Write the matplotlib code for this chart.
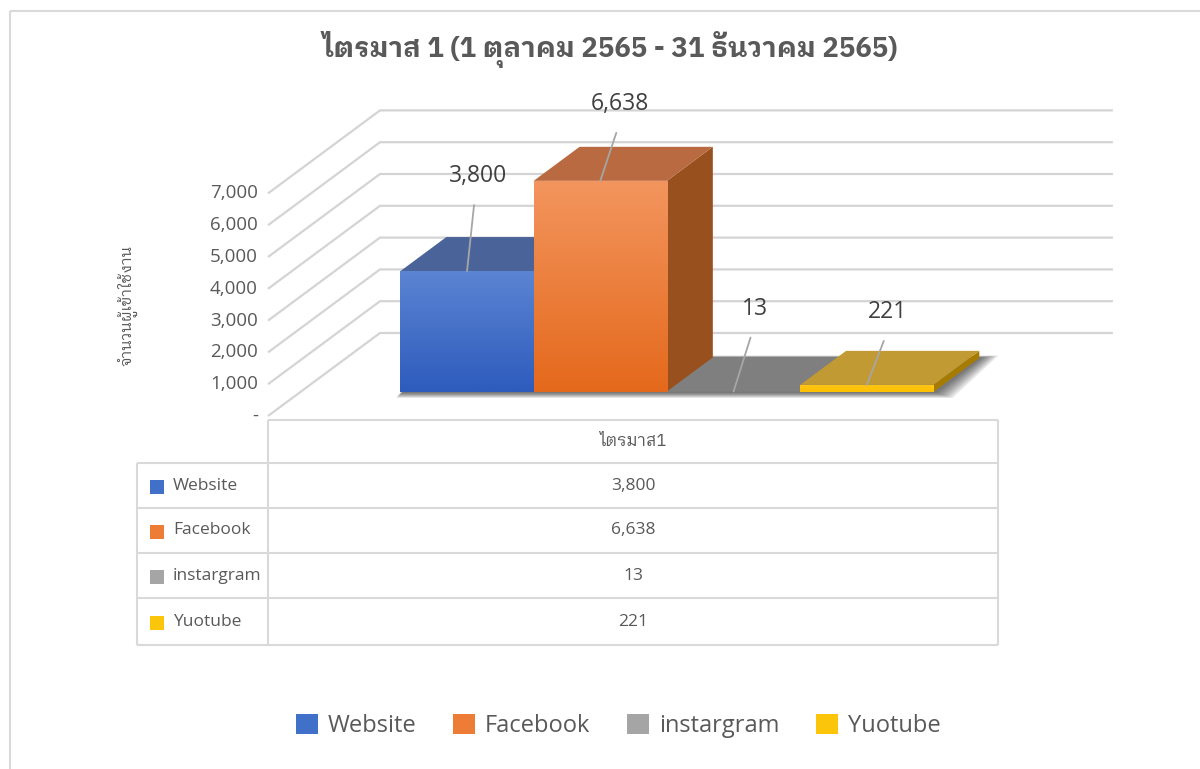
import numpy as np
import matplotlib
matplotlib.use("Agg")
import matplotlib.pyplot as plt
from matplotlib import font_manager
from matplotlib.ft2font import FT2Font
from matplotlib.patches import Polygon, Rectangle
import matplotlib.transforms as mtransforms

# ---------------- data ----------------
title = "ไตรมาส 1 (1 ตุลาคม 2565 - 31 ธันวาคม 2565)"
y_label = "จำนวนผู้เข้าใช้งาน"
period_label = "ไตรมาส1"
series = ["Website", "Facebook", "instargram", "Yuotube"]
values = [3800, 6638, 13, 221]
y_ticks = [0, 1000, 2000, 3000, 4000, 5000, 6000, 7000]

# ---------------- styles ----------------
front_top = ["#5b84d2", "#f3955e", "#8a8a8a", "#ffc61a"]
front_bot = ["#2e5cbd", "#e4691c", "#7a7a7a", "#ffc000"]
top_col = ["#4a6399", "#b96a40", "#7f7f7f", "#c19a33"]
side_col = ["#2c4a80", "#99501f", "#5f5f5f", "#a67c00"]
key_col = ["#4170c8", "#ec7c36", "#a5a5a5", "#fbc50c"]
TXT = "#595959"
GRID = "#d4d4d4"


def fmt(v):
    return "-" if v == 0 else f"{v:,}"


def thai_capable(name):
    for f in font_manager.fontManager.ttflist:
        if f.name == name:
            try:
                cm = FT2Font(f.fname).get_charmap()
            except Exception:
                continue
            if 0x0E44 in cm and 0x0E23 in cm:
                return True
    return False


thai_family = None
for p in ["IBM Plex Sans Thai Looped", "Noto Sans Thai Looped", "Sarabun", "Loma",
          "Noto Sans Thai"]:
    if thai_capable(p):
        thai_family = p
        break
THAI = [thai_family, "DejaVu Sans"] if thai_family else ["DejaVu Sans"]
LAT = ["Open Sans", "DejaVu Sans"]

W, H, DPI = 1200, 769, 100
fig = plt.figure(figsize=(W / DPI, H / DPI), dpi=DPI)
fig.patch.set_facecolor("white")

# pixel transform for layout items (origin top-left)
T = mtransforms.Affine2D().scale(1 / W, -1 / H).translate(0, 1) + fig.transFigure

# ---------------- 3D projection set-up ----------------
PXC = 133.25          # px per category unit
PXV = 0.0318          # px per value unit
FX, FY = 268, 416     # px position of floor front-left corner
DEP = (112, -83)      # px vector from front to back wall
X0, X1 = -1.25, 4.25  # floor extent in category units
ZF, ZB = 0.29, 0.70   # bar depth range

ax = fig.add_axes([0, 0, 1, 1])
ax.axis("off")

DZX = DEP[0] / PXC
DZV = -DEP[1] / PXV


def P(x, v, z):
    return (x + z * DZX, v + z * DZV)


# walls / gridlines
for t in y_ticks:
    pts = [P(X0, t, 0), P(X0, t, 1), P(X1, t, 1)]
    ax.plot([p[0] for p in pts], [p[1] for p in pts], color=GRID, lw=1.6,
            solid_capstyle="butt", zorder=1)
    tx, ty = P(X0, t, 0)
    ax.text(tx - 10 / PXC, ty, fmt(t), ha="right", va="center", fontsize=13.5,
            color=TXT, family=LAT)

# soft shadow under bars
for k in range(8):
    e = 12 - k * 1.4
    ex = e / PXC
    ev = e / PXV
    sh = [P(-0.5 - ex * 0.35, -ev * 0.5, ZF), P(3.5 + ex * 1.6, -ev * 0.5, ZF),
          P(3.5 + ex * 1.6, ev * 0.2, ZB), P(-0.5 - ex * 0.35, ev * 0.2, ZB)]
    ax.add_patch(Polygon(sh, closed=True, facecolor="black", edgecolor="none",
                         alpha=0.085, zorder=2))

# bars
for i, v in enumerate(values):
    xl, xr = i - 0.5, i + 0.5
    side = [P(xr, 0, ZF), P(xr, v, ZF), P(xr, v, ZB), P(xr, 0, ZB)]
    ax.add_patch(Polygon(side, closed=True, facecolor=side_col[i], edgecolor="none", zorder=3 + i))
    top = [P(xl, v, ZF), P(xr, v, ZF), P(xr, v, ZB), P(xl, v, ZB)]
    ax.add_patch(Polygon(top, closed=True, facecolor=top_col[i], edgecolor="none", zorder=3 + i))
    fl = P(xl, 0, ZF)
    fr = P(xr, v, ZF)
    front = Rectangle(fl, fr[0] - fl[0], fr[1] - fl[1], facecolor=front_bot[i],
                      edgecolor="none", zorder=3 + i)
    ax.add_patch(front)
    if v > 0:
        grad = np.linspace(0, 1, 64)[:, None, None]
        c1 = np.array(matplotlib.colors.to_rgb(front_top[i]))
        c2 = np.array(matplotlib.colors.to_rgb(front_bot[i]))
        img = c1 * (1 - grad) + c2 * grad
        im = ax.imshow(img, extent=(fl[0], fr[0], fl[1], fr[1]), origin="upper",
                       aspect="auto", zorder=3.5 + i, interpolation="bilinear")
        im.set_clip_path(front)

# data labels with leader lines
label_off = [(11, 95), (20, 77), (21, 83), (21, 73)]
for i, v in enumerate(values):
    anchor = P(i, v, ZF)
    dx, dy = label_off[i]
    ax.annotate("", xy=anchor, xytext=(dx - 4, dy - 29), textcoords="offset pixels",
                arrowprops=dict(arrowstyle="-", color="#a6a6a6", lw=1.3,
                                shrinkA=0, shrinkB=0), zorder=10)
    ax.annotate(fmt(v), xy=anchor, xytext=(dx, dy), textcoords="offset pixels",
                ha="center", va="center", fontsize=16.5, color="#404040",
                family=LAT, zorder=10)

ax.set_xlim(X0 - FX / PXC, X0 + (W - FX) / PXC)
ax.set_ylim(-(H - FY) / PXV, FY / PXV)

# ---------------- title & axis label ----------------
fig.text(610, 49, title, transform=T, ha="center", va="center", fontsize=19.8,
         fontweight="bold", color=TXT, family=THAI)
fig.text(127, 305, y_label, transform=T, ha="center", va="center", fontsize=11,
         rotation=90, color=TXT, family=THAI)

# ---------------- data table ----------------
tl, tm, tr = 137, 268, 998
rows_y = [420, 463, 508, 553, 598, 645]
lk = dict(color="#d9d9d9", lw=1.5, transform=T, solid_capstyle="butt")
fig.add_artist(plt.Line2D([tm, tr], [rows_y[0], rows_y[0]], **lk))
for yy in rows_y[1:]:
    fig.add_artist(plt.Line2D([tl, tr], [yy, yy], **lk))
fig.add_artist(plt.Line2D([tl, tl], [rows_y[1], rows_y[-1]], **lk))
fig.add_artist(plt.Line2D([tm, tm], [rows_y[0], rows_y[-1]], **lk))
fig.add_artist(plt.Line2D([tr, tr], [rows_y[0], rows_y[-1]], **lk))
fig.text((tm + tr) / 2, (rows_y[0] + rows_y[1]) / 2, period_label, transform=T,
         ha="center", va="center", fontsize=12, color=TXT, family=THAI)
for i, (s, v) in enumerate(zip(series, values)):
    yc = (rows_y[i + 1] + rows_y[i + 2]) / 2
    fig.add_artist(Rectangle((150, yc - 6), 14, 14, transform=T, facecolor=key_col[i],
                             edgecolor="none"))
    fig.text(173, yc, s, transform=T, ha="left", va="center", fontsize=12.5,
             color=TXT, family=LAT)
    fig.text((tm + tr) / 2, yc, fmt(v), transform=T, ha="center", va="center",
             fontsize=12.5, color=TXT, family=LAT)

# ---------------- legend ----------------
handles = [Rectangle((0, 0), 1, 1, facecolor=key_col[i], edgecolor="none") for i in range(4)]
fig.legend(handles, series, loc="center", bbox_to_anchor=(618 / W, 1 - 726 / H), ncol=4,
           frameon=False, prop=dict(family=LAT, size=17), labelcolor=TXT,
           handlelength=0.95, handleheight=0.95, handletextpad=0.4, columnspacing=1.55)

# outer border
fig.add_artist(Rectangle((10, 11), 1200, 780, transform=T, facecolor="none",
                         edgecolor="#d9d9d9", lw=1.5))

fig.savefig("out.png", dpi=DPI)
